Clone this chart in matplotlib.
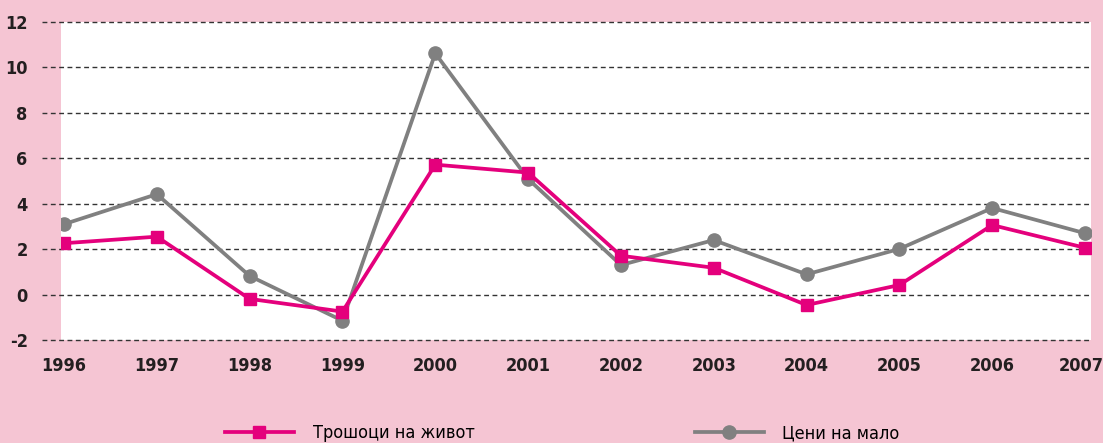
import matplotlib.pyplot as plt
from matplotlib.transforms import ScaledTranslation

years = [1996, 1997, 1998, 1999, 2000, 2001, 2002, 2003, 2004, 2005, 2006, 2007]
trosoci = [2.26, 2.55, -0.19, -0.75, 5.72, 5.37, 1.71, 1.18, -0.46, 0.42, 3.06, 2.06]
ceni = [3.10, 4.42, 0.82, -1.15, 10.62, 5.09, 1.30, 2.40, 0.89, 2.01, 3.81, 2.70]
yticks = [-2, 0, 2, 4, 6, 8, 10, 12]
labels = ['Трошоци на живот', 'Цени на мало']

plt.rcParams['font.family'] = ['DejaVu Sans']
plt.rcParams['font.stretch'] = 'condensed'

bg = '#F5C5D3'
pink = '#E4007C'
grey = '#808080'

fig = plt.figure(figsize=(11.03, 4.43), dpi=100, facecolor=bg)
W, H = 1103, 443
ax = fig.add_axes([61 / W, (H - 340) / H, 1030 / W, 318 / H])
ax.set_facecolor('white')

for y in yticks:
    ax.axhline(y, xmin=-19 / 1030, xmax=1, color='#333333', lw=1.0,
               ls=(0, (3.5, 2.5)), clip_on=False, zorder=1)

l1, = ax.plot(years, trosoci, color=pink, lw=2.7, marker='s', markersize=9,
              zorder=3, label=labels[0])
l2, = ax.plot(years, ceni, color=grey, lw=2.7, marker='o', markersize=9.5,
              zorder=2, label=labels[1])

ax.set_xlim(1996 - 3 / 92.8, 2007 + 6 / 92.8)
ax.set_ylim(-2, 12)
ax.set_xticks(years)
ax.set_xticklabels([str(y) for y in years], fontsize=13, fontweight='bold',
                   fontstretch='condensed', color='#231F20')
ax.set_yticks(yticks)
ax.set_yticklabels([str(y) for y in yticks], fontsize=13, fontweight='bold',
                   fontstretch='condensed', color='#231F20')
ax.tick_params(axis='both', length=0)
ax.tick_params(axis='x', pad=12)
ax.tick_params(axis='y', pad=24)
for s in ax.spines.values():
    s.set_visible(False)

# the last year label sits right at the figure edge; nudge it in a bit
last = ax.get_xticklabels()[-1]
last.set_transform(last.get_transform() + ScaledTranslation(-4 / 100, 0, fig.dpi_scale_trans))

leg_font = {'size': 13, 'stretch': 'condensed'}
fig.legend(handles=[l1], loc='center left', bbox_to_anchor=(225 / W, 1 - 433 / H),
           frameon=False, prop=leg_font, handlelength=3.8, handletextpad=1.1,
           borderpad=0, borderaxespad=0)
fig.legend(handles=[l2], loc='center left', bbox_to_anchor=(695 / W, 1 - 433 / H),
           frameon=False, prop=leg_font, handlelength=3.8, handletextpad=1.0,
           borderpad=0, borderaxespad=0)

fig.savefig('out.png', dpi=100, facecolor=bg)
